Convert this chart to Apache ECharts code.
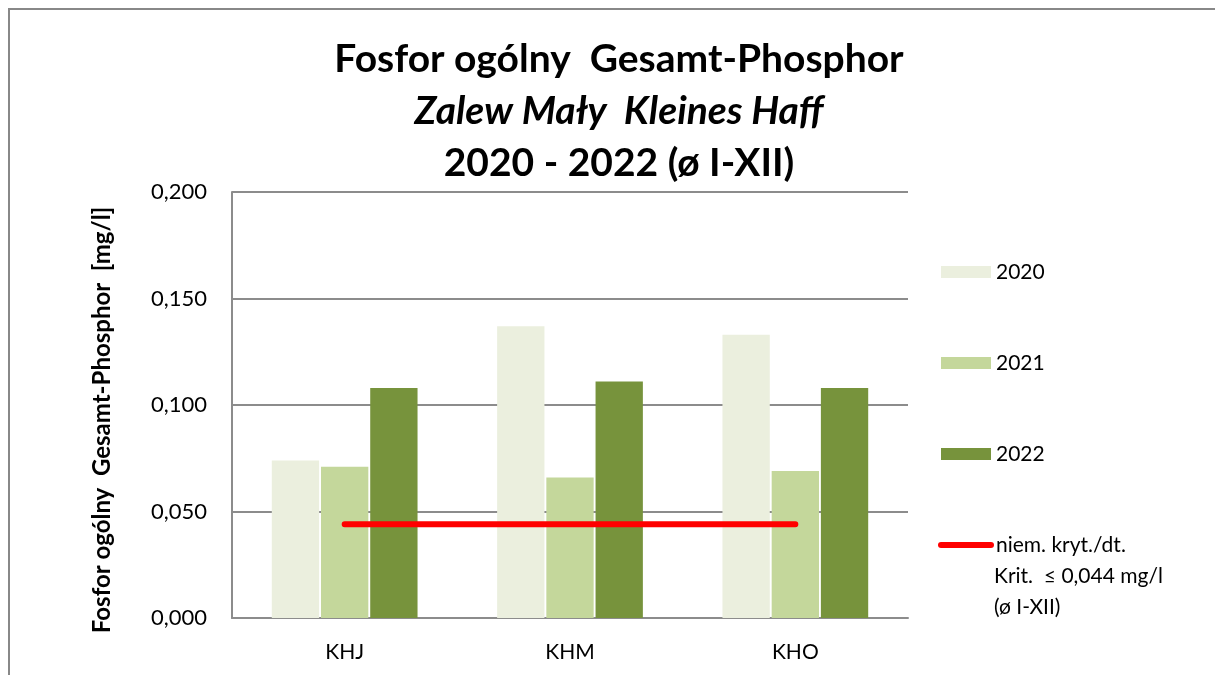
<!DOCTYPE html>
<html>
<head>
<meta charset="utf-8">
<script src="https://cdn.jsdelivr.net/npm/echarts@6/dist/echarts.min.js"></script>
<style>
  html, body { margin: 0; padding: 0; background: #fff; }
  #chart { width: 1215px; height: 675px; }
</style>
</head>
<body>
<div id="chart"></div>
<script>
// dane
const categories = ['KHJ', 'KHM', 'KHO']
const years = ['2020', '2021', '2022']
const values2020 = [0.074, 0.137, 0.133]
const values2021 = [0.071, 0.066, 0.069]
const values2022 = [0.108, 0.111, 0.108]
const critName = 'niem. kryt./dt.\nKrit.  ≤ 0,044 mg/l\n(ø I-XII)'
const critValues = [0.044, 0.044, 0.044]
const barColors = ['#EBEFDE', '#C4D79B', '#77933C']

const font = 'Lato'
let myChart = echarts.init(document.getElementById('chart'))

const barData = [values2020, values2021, values2022]
const barSeries = years.map((y, i) => ({
  name: y,
  type: 'bar',
  barWidth: '21%',
  barGap: '4%',
  itemStyle: { color: barColors[i] },
  data: barData[i]
}))

myChart.setOption({
  textStyle: { fontFamily: font },
  title: {
    left: 614,
    top: 28,
    textAlign: 'center',
    text: '{a|Fosfor ogólny  Gesamt-Phosphor}\n{b|Zalew Mały  Kleines Haff}\n{a|2020 - 2022 (ø I-XII)}',
    textStyle: {
      rich: {
        a: { fontFamily: font, fontSize: 39, fontWeight: 'bold', color: '#000', lineHeight: 52, align: 'center' },
        b: { fontFamily: font, fontSize: 39, fontWeight: 'bold', fontStyle: 'italic', color: '#000', lineHeight: 52, align: 'center' }
      }
    }
  },
  graphic: [
    {
      // ramka wykresu
      type: 'rect',
      shape: { x: 9, y: 9, width: 1300, height: 800 },
      style: { fill: 'none', stroke: '#888', lineWidth: 2 },
      silent: true
    },
    {
      type: 'text',
      left: 994,
      top: 561,
      style: {
        text: 'Krit.  ≤ 0,044 mg/l\n(ø I-XII)',
        fontFamily: font,
        fontSize: 21,
        lineHeight: 31,
        fill: '#000'
      }
    }
  ],
  legend: {
    orient: 'vertical',
    left: 933,
    top: 256,
    itemWidth: 50,
    itemHeight: 12,
    itemGap: 69,
    textStyle: { fontFamily: font, fontSize: 21, color: '#000', lineHeight: 22 },
    formatter: (name) => name.split('\n')[0],
    data: [
      { name: '2020', icon: 'rect' },
      { name: '2021', icon: 'rect' },
      { name: '2022', icon: 'rect' },
      { name: critName, itemStyle: { opacity: 0 }, lineStyle: { color: '#FF0000', width: 6, cap: 'round' } }
    ]
  },
  grid: {
    left: 232,
    right: 307,
    top: 192,
    bottom: 57
  },
  xAxis: {
    type: 'category',
    data: categories,
    boundaryGap: true,
    axisLine: { lineStyle: { color: '#8c8c8c', width: 2 } },
    axisTick: { show: false },
    axisLabel: { color: '#000', fontSize: 21, margin: 24, fontFamily: font }
  },
  yAxis: {
    type: 'value',
    min: 0,
    max: 0.2,
    interval: 0.05,
    name: 'Fosfor ogólny  Gesamt-Phosphor  [mg/l]',
    nameLocation: 'middle',
    nameGap: 118,
    nameTextStyle: { color: '#000', fontSize: 24, fontWeight: 'bold', fontFamily: font, padding: [0, 30, 0, 0] },
    axisLine: { show: true, lineStyle: { color: '#8c8c8c', width: 2 } },
    axisTick: { show: false },
    splitLine: { lineStyle: { color: '#8c8c8c', width: 2 } },
    axisLabel: {
      color: '#000',
      fontSize: 22,
      margin: 25,
      fontFamily: font,
      formatter: (v) => v.toFixed(3).replace('.', ',')
    }
  },
  series: barSeries.concat([
    {
      name: critName,
      type: 'line',
      symbol: 'none',
      lineStyle: { color: '#FF0000', width: 6, cap: 'round' },
      itemStyle: { color: '#FF0000' },
      data: critValues
    }
  ])
})
</script>
</body>
</html>
